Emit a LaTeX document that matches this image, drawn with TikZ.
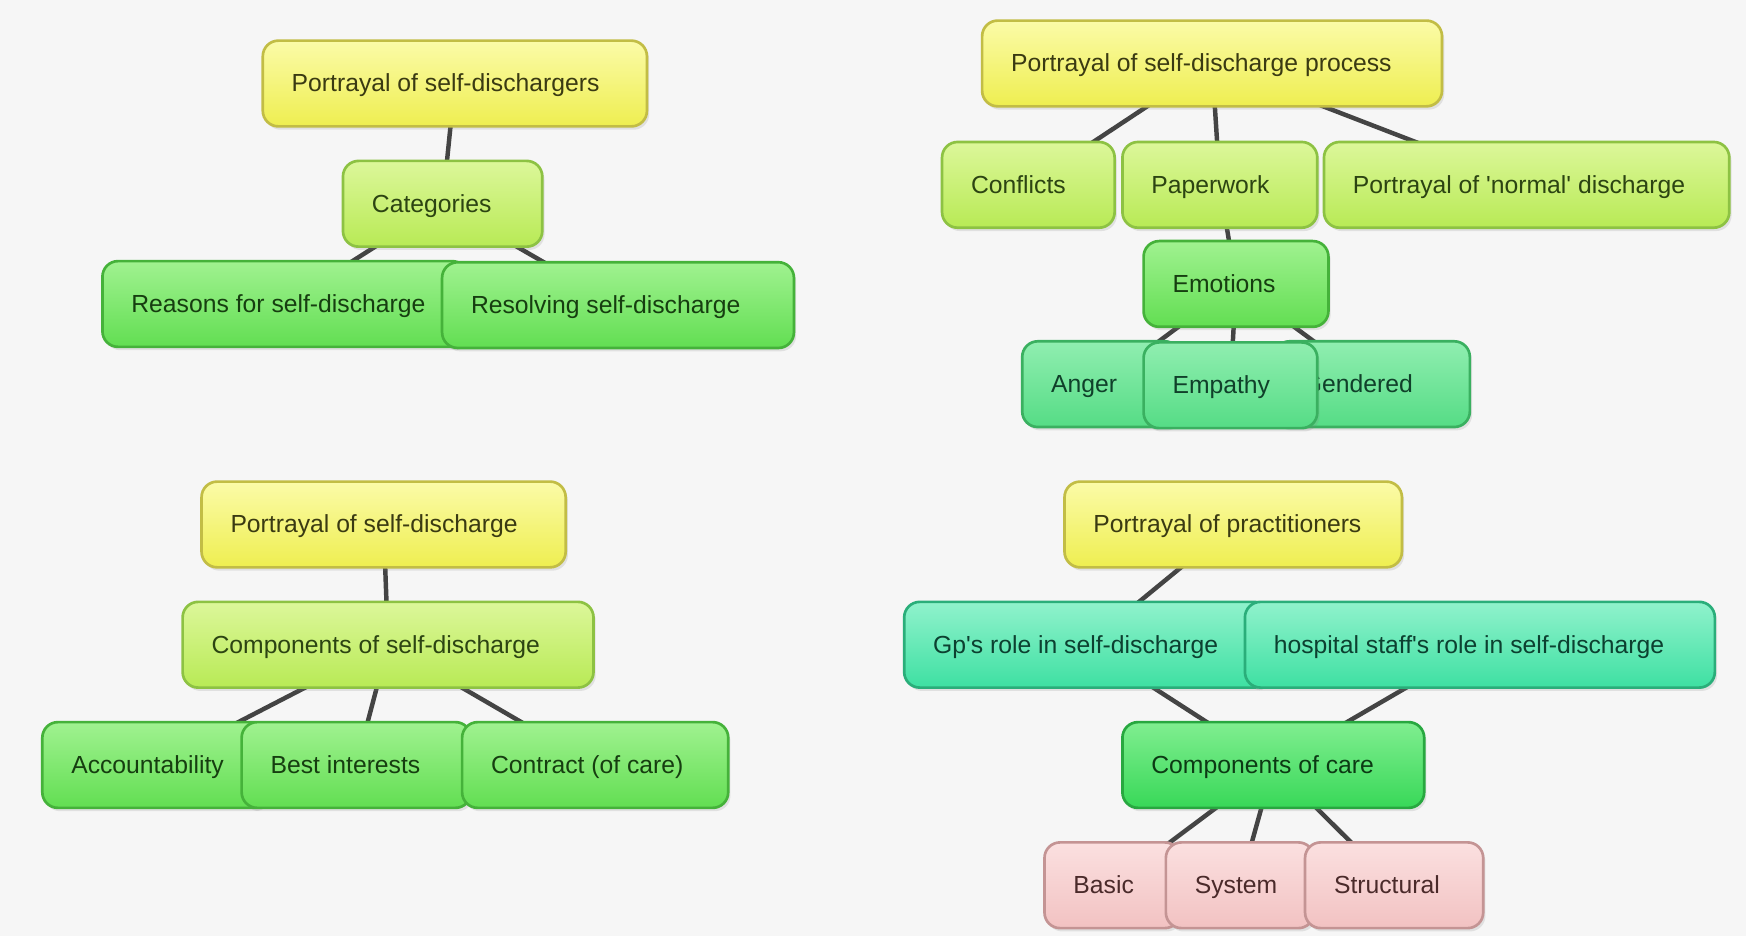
\documentclass[tikz,border=0pt]{standalone}
\usepackage{fontspec}
\setmainfont{Liberation Sans}
\usetikzlibrary{shadows}
\pgfdeclarelayer{back}
\pgfdeclarelayer{bg}
\pgfsetlayers{back,bg,main}
\definecolor{bgc}{HTML}{F6F6F6}
\definecolor{yelT}{HTML}{FBFBA8}\definecolor{yelB}{HTML}{EEEE50}\definecolor{yelD}{HTML}{C2BD45}\definecolor{yelX}{HTML}{3A3A12}
\definecolor{limT}{HTML}{DCF79A}\definecolor{limB}{HTML}{B8EA55}\definecolor{limD}{HTML}{8DC243}\definecolor{limX}{HTML}{2C4412}
\definecolor{grnT}{HTML}{A0F290}\definecolor{grnB}{HTML}{62DE52}\definecolor{grnD}{HTML}{45B23A}\definecolor{grnX}{HTML}{163E10}
\definecolor{mntT}{HTML}{90EEB0}\definecolor{mntB}{HTML}{55DC85}\definecolor{mntD}{HTML}{3AB060}\definecolor{mntX}{HTML}{10402A}
\definecolor{brgT}{HTML}{80EE90}\definecolor{brgB}{HTML}{38D858}\definecolor{brgD}{HTML}{28A840}\definecolor{brgX}{HTML}{0C3A14}
\definecolor{aquT}{HTML}{90F2CC}\definecolor{aquB}{HTML}{3EE0A2}\definecolor{aquD}{HTML}{2AAE7A}\definecolor{aquX}{HTML}{0C4030}
\definecolor{pnkT}{HTML}{FBE0E0}\definecolor{pnkB}{HTML}{F2C2C2}\definecolor{pnkD}{HTML}{C49494}\definecolor{pnkX}{HTML}{4A2A2A}
\definecolor{lnc}{HTML}{444444}
\newcommand\lbox[2]{\makebox[\dimexpr(#1pt-52pt)/2\relax][l]{#2}}
\newcommand\bx[6]{\node[box=#5,#2] (#1) at (#3,#4) {\lbox{#5}{#6}};}
\tikzset{
  box/.style={rounded corners=7pt, line width=1.2pt, inner xsep=13pt, inner ysep=0pt,
    text height=10pt, text depth=2.4pt,
    minimum height=38.5pt, minimum width=#1*0.5pt, font=\fontsize{11.1}{13}\selectfont,
    drop shadow={opacity=0.18, shadow xshift=1pt, shadow yshift=-1.5pt}},
  yel/.style={draw=yelD, top color=yelT, bottom color=yelB, text=yelX},
  lim/.style={draw=limD, top color=limT, bottom color=limB, text=limX},
  grn/.style={draw=grnD, top color=grnT, bottom color=grnB, text=grnX},
  mnt/.style={draw=mntD, top color=mntT, bottom color=mntB, text=mntX},
  brg/.style={draw=brgD, top color=brgT, bottom color=brgB, text=brgX},
  aqu/.style={draw=aquD, top color=aquT, bottom color=aquB, text=aquX},
  pnk/.style={draw=pnkD, top color=pnkT, bottom color=pnkB, text=pnkX},
  conn/.style={draw=lnc, line width=2pt},
}
\begin{document}
\begin{tikzpicture}[x=0.5pt,y=-0.5pt]
\begin{pgfonlayer}{back}
\fill[bgc] (0,0) rectangle (1568,840.6);
\end{pgfonlayer}
\useasboundingbox (0,0) rectangle (1568,840.6);
% top-left
\bx{ps}{yel}{408.5}{75}{345}{Portrayal of self-dischargers}
\bx{cat}{lim}{397.5}{183}{179}{Categories}
\bx{rea}{grn}{256}{273}{328}{Reasons for self-discharge}
\bx{res}{grn}{555}{274}{316}{Resolving self-discharge}
% top-right
\bx{pp}{yel}{1088.5}{57}{413}{Portrayal of self-discharge process}
\bx{con}{lim}{923.5}{166}{155}{Conflicts}
\bx{pap}{lim}{1095.5}{166}{175}{Paperwork}
\bx{nor}{lim}{1371}{166}{364}{Portrayal of \textquotesingle normal\textquotesingle\ discharge}
\bx{emo}{grn}{1110}{255}{166}{Emotions}
\bx{ang}{mnt}{989}{345}{142}{Anger}
\bx{gen}{mnt}{1232}{345}{176}{Gendered}
\bx{emp}{mnt}{1105}{346}{156}{Empathy}
% bottom-left
\bx{psd}{yel}{344.5}{471}{327}{Portrayal of self-discharge}
\bx{csd}{lim}{348.5}{579}{369}{Components of self-discharge}
\bx{acc}{grn}{139.5}{687}{203}{Accountability}
\bx{bes}{grn}{320}{687}{206}{Best interests}
\bx{ctr}{grn}{534.5}{687}{239}{Contract (of care)}
% bottom-right
\bx{ppr}{yel}{1107.5}{471}{303}{Portrayal of practitioners}
\bx{gp}{aqu}{976}{579}{328}{Gp\textquotesingle s role in self-discharge}
\bx{hos}{aqu}{1329}{579}{422}{hospital staff\textquotesingle s role in self-discharge}
\bx{coc}{brg}{1143.5}{687}{271}{Components of care}
\bx{bas}{pnk}{999}{795}{122}{Basic}
\bx{sys}{pnk}{1113.5}{795}{133}{System}
\bx{str}{pnk}{1252}{795}{160}{Structural}
\begin{pgfonlayer}{bg}
\draw[conn] (ps.center) -- (cat.center);
\draw[conn] (cat.center) -- (rea.center);
\draw[conn] (cat.center) -- (res.center);
\draw[conn] (pp.center) -- (con.center);
\draw[conn] (pp.center) -- (pap.center);
\draw[conn] (pp.center) -- (nor.center);
\draw[conn] (pap.center) -- (emo.center);
\draw[conn] (emo.center) -- (ang.center);
\draw[conn] (emo.center) -- (emp.center);
\draw[conn] (emo.center) -- (gen.center);
\draw[conn] (psd.center) -- (csd.center);
\draw[conn] (csd.center) -- (acc.center);
\draw[conn] (csd.center) -- (bes.center);
\draw[conn] (csd.center) -- (ctr.center);
\draw[conn] (ppr.center) -- (gp.center);
\draw[conn] (gp.center) -- (coc.center);
\draw[conn] (hos.center) -- (coc.center);
\draw[conn] (coc.center) -- (bas.center);
\draw[conn] (coc.center) -- (sys.center);
\draw[conn] (coc.center) -- (str.center);
\end{pgfonlayer}
\end{tikzpicture}
\end{document}
